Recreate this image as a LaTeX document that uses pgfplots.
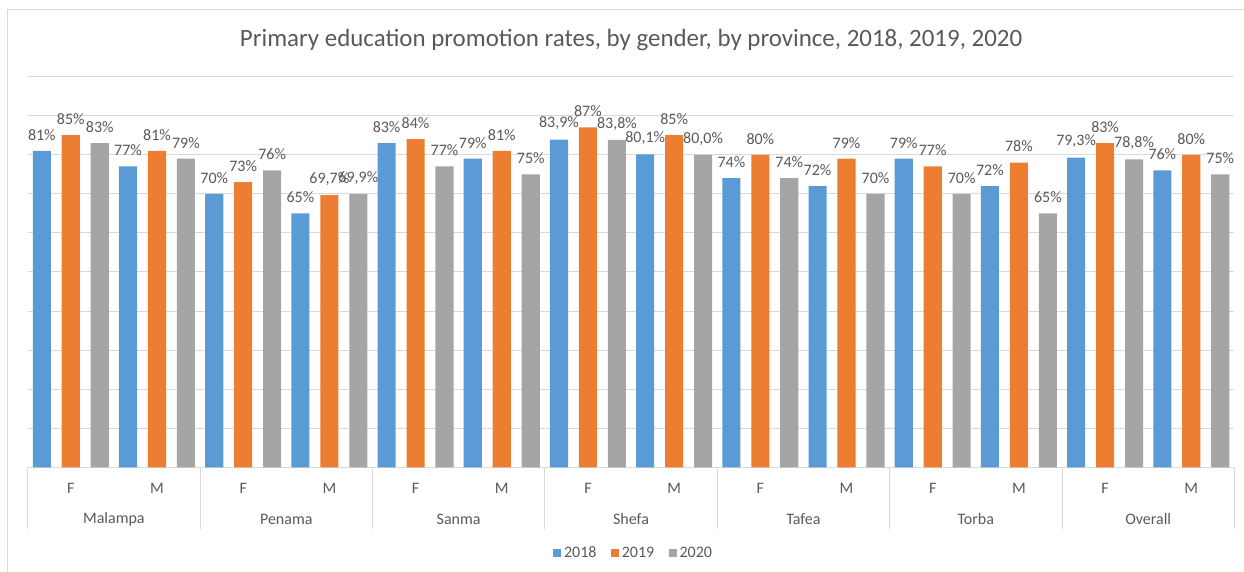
\documentclass[border=0pt]{standalone}
\usepackage{fontspec}
\setmainfont{Carlito}
\usepackage{pgfplots}
\usepackage{pgfplotstable}
\pgfplotsset{compat=1.18}
\definecolor{c18}{HTML}{5B9BD5}
\definecolor{c19}{HTML}{ED7D31}
\definecolor{c20}{HTML}{A5A5A5}
\definecolor{txt}{HTML}{595959}
\definecolor{grd}{HTML}{D9D9D9}
\pgfplotstableread{
x y18 l18 y19 l19 y20 l20
0 81 81 85 85 83 83
1 77 77 81 81 79 79
2 70 70 73 73 76 76
3 65 65 69.7 69,7 69.9 69,9
4 83 83 84 84 77 77
5 79 79 81 81 75 75
6 83.9 83,9 87 87 83.8 83,8
7 80.1 80,1 85 85 80.0 80,0
8 74 74 80 80 74 74
9 72 72 79 79 70 70
10 79 79 77 77 70 70
11 72 72 78 78 65 65
12 79.3 79,3 83 83 78.8 78,8
13 76 76 80 80 75 75
}\datatable
\newcommand{\lblfont}{\fontsize{12}{14}\selectfont}
\begin{document}
\begin{tikzpicture}
\useasboundingbox (-20.775pt,-77.775pt) rectangle (912.225pt,350.475pt);
\draw[grd, line width=0.75pt] (-14.775pt,-100pt) |- (1000pt,343.5pt);
\node[font=\fontsize{18.7}{22}\selectfont, text=txt] at (452.5pt,320.5pt) {Primary education promotion rates, by gender, by province, 2018, 2019, 2020};
\begin{axis}[
  at={(0,0)}, anchor=south west,
  scale only axis, width=905pt, height=293pt,
  xmin=-0.5, xmax=13.5, ymin=0, ymax=100,
  ybar, bar width=0.21,
  axis line style={draw=none},
  ytick={0,10,...,100}, yticklabels={},
  ymajorgrids, grid style={grd, line width=0.75pt},
  major tick length=0pt,
  xtick={0,...,13},
  xticklabels={F,M,F,M,F,M,F,M,F,M,F,M,F,M},
  xticklabel style={anchor=center, yshift=-15.75pt, font=\lblfont, text=txt},
  clip=false,
  point meta=explicit symbolic,
  nodes near coords={\pgfplotspointmeta\%},
  every node near coord/.append style={anchor=center, yshift=12pt, font=\lblfont, text=txt},
  legend style={at={(0.5025,-0.2195)}, anchor=center, draw=none, fill=none,
    legend columns=3, font=\lblfont, text=txt,
    /tikz/every even column/.append style={column sep=9pt}},
  legend image code/.code={\fill[#1] (0pt,-3pt) rectangle (6pt,3pt);},
]
\addplot[fill=c18, draw=none, bar shift=-0.336] table[x=x,y=y18,meta=l18]{\datatable};
\addplot[fill=c19, draw=none, bar shift=0] table[x=x,y=y19,meta=l19]{\datatable};
\addplot[fill=c20, draw=none, bar shift=0.336] table[x=x,y=y20,meta=l20]{\datatable};
\legend{2018,2019,2020}
\node[font=\lblfont, text=txt] at (axis cs:0.5,0) [yshift=-38.8pt] {Malampa};
\node[font=\lblfont, text=txt] at (axis cs:2.5,0) [yshift=-38.8pt] {Penama};
\node[font=\lblfont, text=txt] at (axis cs:4.5,0) [yshift=-38.8pt] {Sanma};
\node[font=\lblfont, text=txt] at (axis cs:6.5,0) [yshift=-38.8pt] {Shefa};
\node[font=\lblfont, text=txt] at (axis cs:8.5,0) [yshift=-38.8pt] {Tafea};
\node[font=\lblfont, text=txt] at (axis cs:10.5,0) [yshift=-38.8pt] {Torba};
\node[font=\lblfont, text=txt] at (axis cs:12.5,0) [yshift=-38.8pt] {Overall};
\draw[grd, line width=0.75pt] (axis cs:-0.5,0) -- ++(0pt,-46.3pt);
\draw[grd, line width=0.75pt] (axis cs:1.5,0) -- ++(0pt,-46.3pt);
\draw[grd, line width=0.75pt] (axis cs:3.5,0) -- ++(0pt,-46.3pt);
\draw[grd, line width=0.75pt] (axis cs:5.5,0) -- ++(0pt,-46.3pt);
\draw[grd, line width=0.75pt] (axis cs:7.5,0) -- ++(0pt,-46.3pt);
\draw[grd, line width=0.75pt] (axis cs:9.5,0) -- ++(0pt,-46.3pt);
\draw[grd, line width=0.75pt] (axis cs:11.5,0) -- ++(0pt,-46.3pt);
\draw[grd, line width=0.75pt] (axis cs:13.5,0) -- ++(0pt,-46.3pt);
\end{axis}
\end{tikzpicture}
\end{document}
